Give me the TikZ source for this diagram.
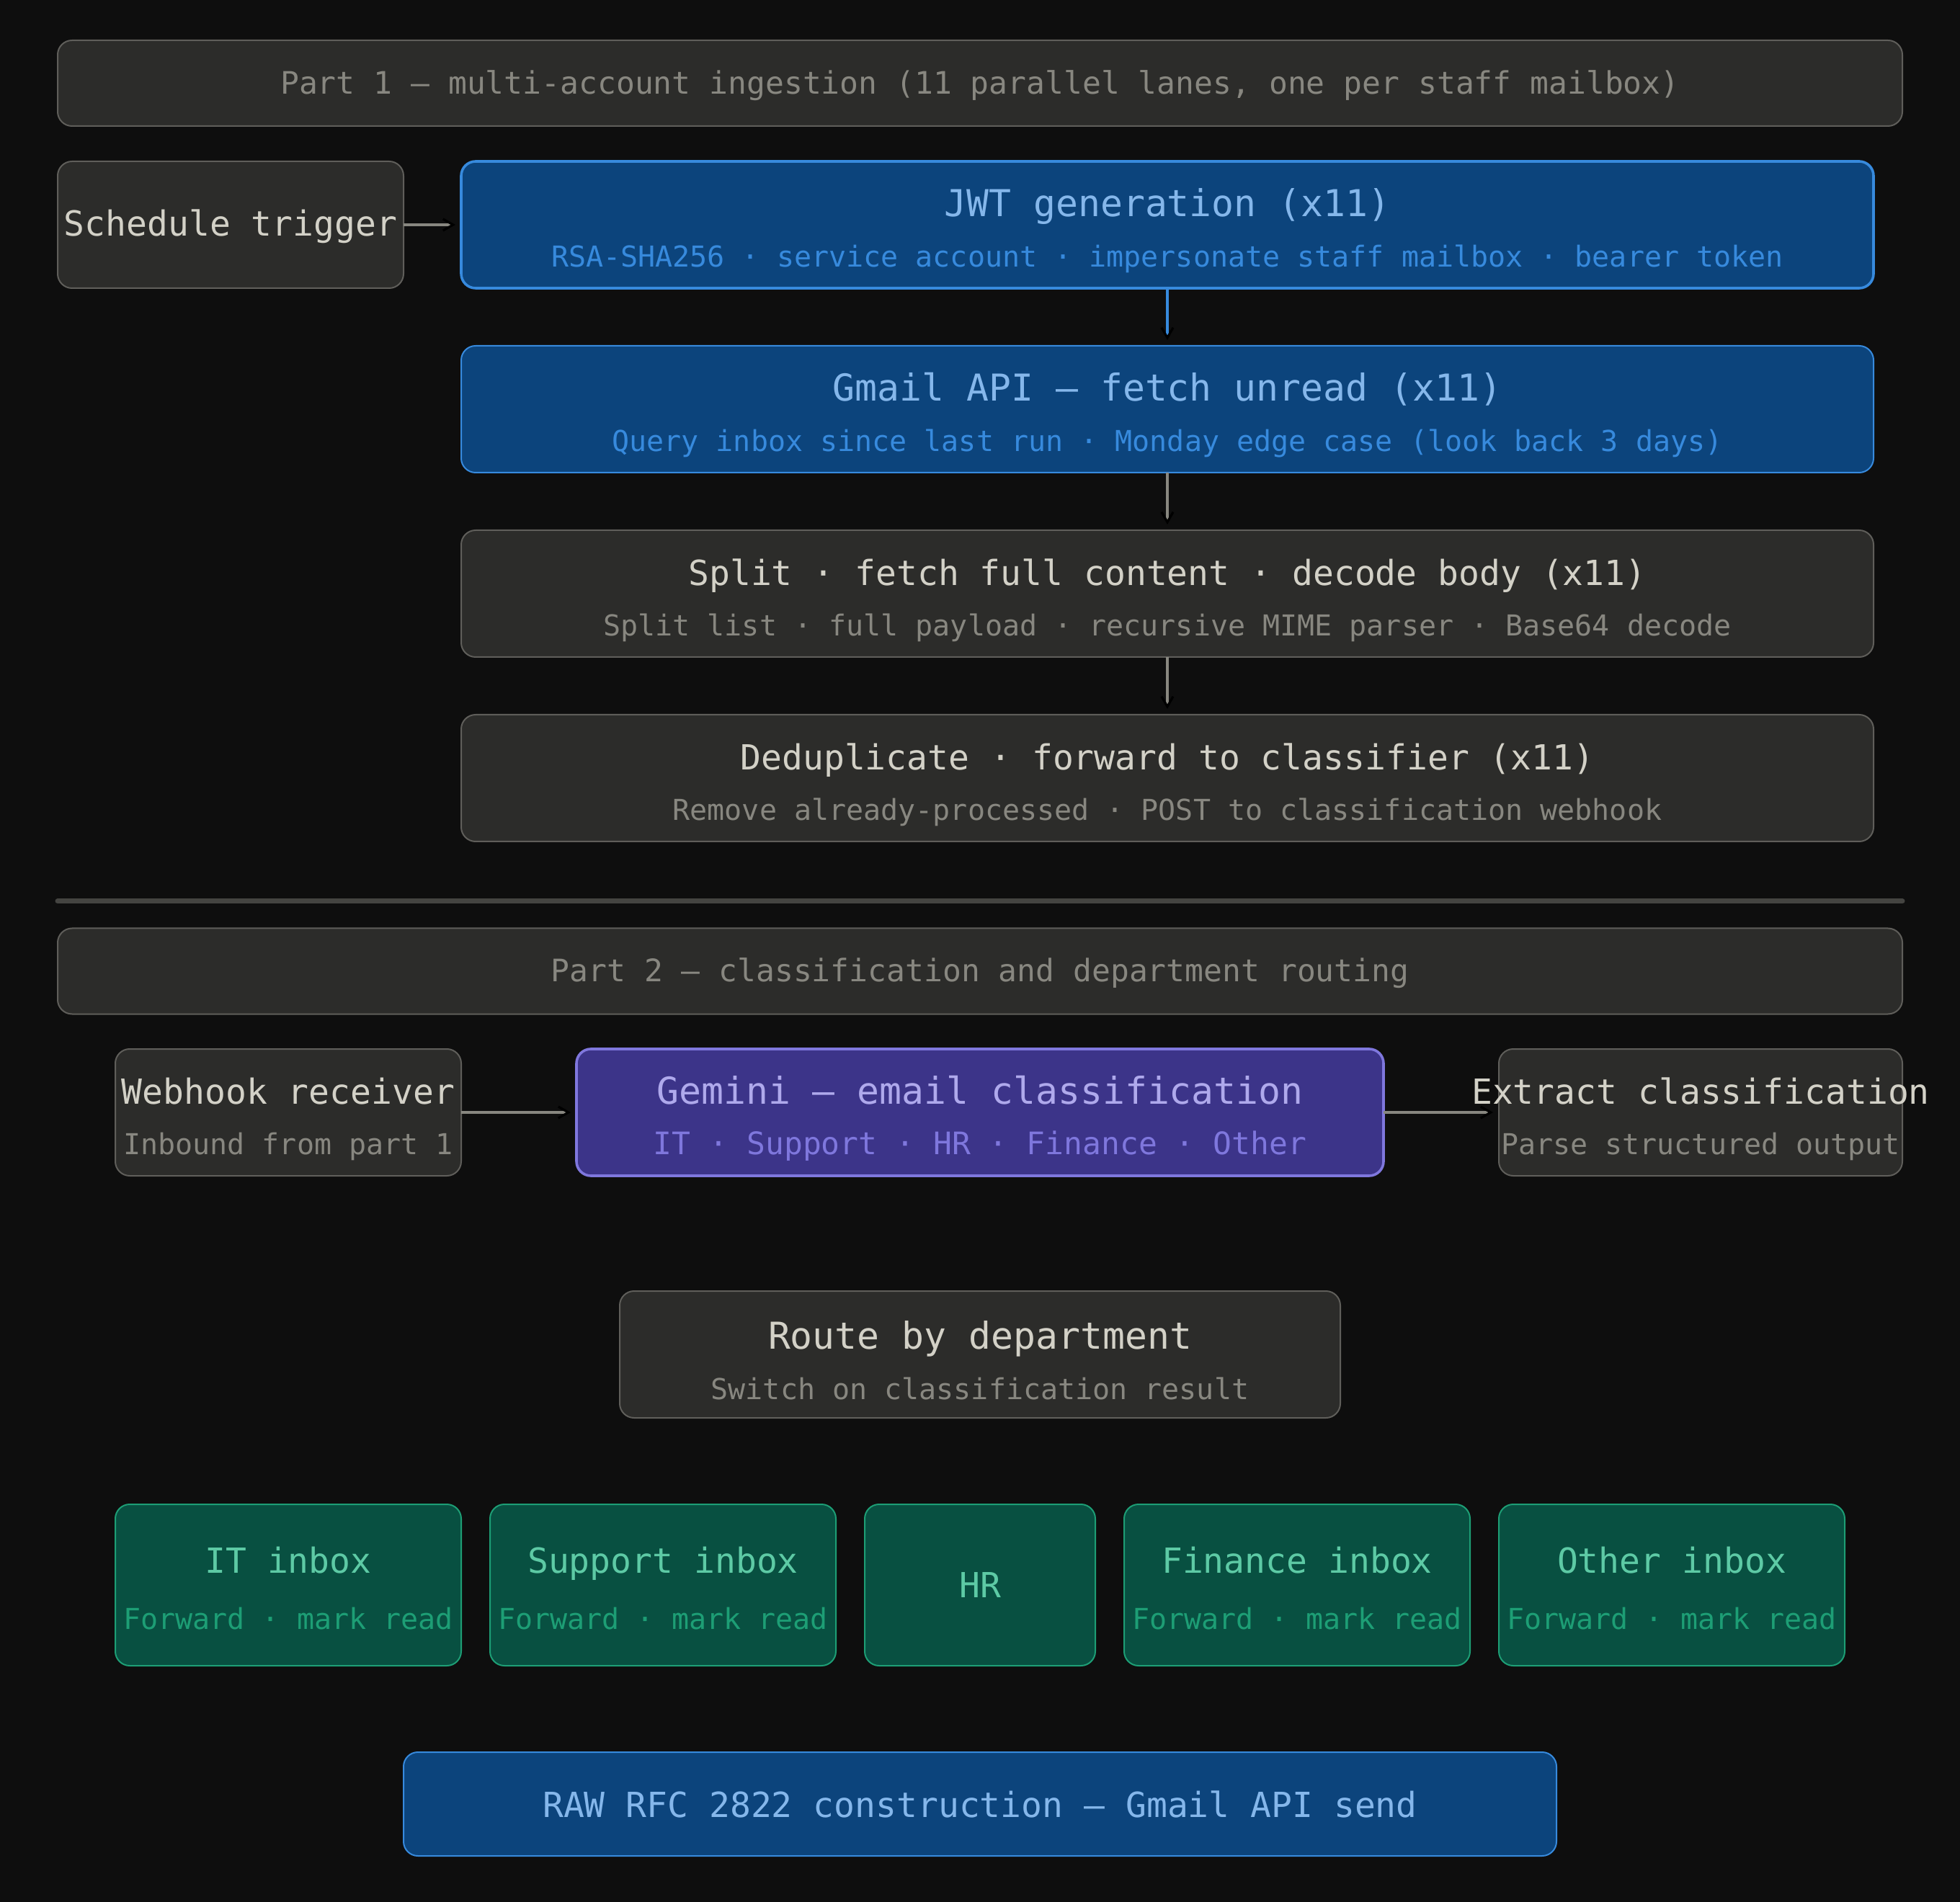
\documentclass[tikz,border=0pt]{standalone}
\usepackage{fontspec}
\setmainfont{DejaVu Sans Mono}
\usepackage{tikz}
\usetikzlibrary{arrows.meta,positioning}
\definecolor{pagebg}{HTML}{0E0E0E}
\definecolor{plainfill}{HTML}{2C2C2A}
\definecolor{plainline}{HTML}{5F5E5A}
\definecolor{plaintext}{HTML}{D3D1C7}
\definecolor{plainsub}{HTML}{888780}
\definecolor{apifill}{HTML}{0C447C}
\definecolor{apiline}{HTML}{378ADD}
\definecolor{apitext}{HTML}{85B7EB}
\definecolor{modelfill}{HTML}{3C3489}
\definecolor{modelline}{HTML}{7F77DD}
\definecolor{modeltext}{HTML}{AFA9EC}
\definecolor{inboxfill}{HTML}{085041}
\definecolor{inboxline}{HTML}{1D9E75}
\definecolor{inboxtext}{HTML}{5DCAA5}
\definecolor{rulecolor}{HTML}{444441}
\newcommand{\bigtitle}{\fontsize{12.85}{17.5}\selectfont}
\newcommand{\toprow}{\rule{0pt}{14pt}}
\newcommand{\inboxrow}{\rule{0pt}{11.4pt}}
\newcommand{\subtxt}[2]{{\color{#1}\fontsize{10}{17.5}\selectfont #2}}
\tikzset{
  basenode/.style={
    rounded corners=5pt,
    align=center,
    inner sep=0pt,
    outer sep=0pt,
    minimum height=44pt,
    font=\fontsize{12}{17.5}\selectfont
  },
  plainnode/.style={basenode, draw=plainline, fill=plainfill, line width=0.5pt, text=plaintext},
  apinode/.style={basenode, draw=apiline, fill=apifill, line width=0.5pt, text=apitext},
  modelnode/.style={basenode, draw=modelline, fill=modelfill, line width=0.9pt, text=modeltext},
  inboxnode/.style={basenode, draw=inboxline, fill=inboxfill, line width=0.5pt, text=inboxtext,
    minimum width=120pt, minimum height=56pt},
  headnode/.style={plainnode, minimum width=640pt, minimum height=29.75pt, text=plainsub,
    text height=10pt, text depth=2.5pt, font=\fontsize{10.75}{13}\selectfont},
  flowarrow/.style={-{Straight Barb[length=3.5pt,width=4pt,color=black]},line width=0.8pt,draw=plainsub,shorten >=2pt},
  apiarrow/.style={flowarrow, draw=apiline}
}
\begin{document}
\begin{tikzpicture}
  \path[use as bounding box, fill=pagebg] (0,0) rectangle (680pt,-660pt);
  % part 1
  \node[headnode] (part1) at (340pt,-28.875pt) {Part 1 — multi-account ingestion (11 parallel lanes, one per staff mailbox)};
  \node[apinode, line width=0.9pt, minimum width=490pt, font=\bigtitle] (jwt) at (405pt,-78pt)
    {\toprow JWT generation (x11)\\\subtxt{apiline}{RSA-SHA256 · service account · impersonate staff mailbox · bearer token}};
  \node[plainnode, minimum width=120pt, text height=10.9pt, text depth=2.9pt, left=20pt of jwt] (trigger) {Schedule trigger};
  \node[apinode, minimum width=490pt, font=\bigtitle, below=20pt of jwt] (fetch)
    {\toprow Gmail API — fetch unread (x11)\\\subtxt{apiline}{Query inbox since last run · Monday edge case (look back 3 days)}};
  \node[plainnode, minimum width=490pt, below=20pt of fetch] (split)
    {\toprow Split · fetch full content · decode body (x11)\\\subtxt{plainsub}{Split list · full payload · recursive MIME parser · Base64 decode}};
  \node[plainnode, minimum width=490pt, below=20pt of split] (dedup)
    {\toprow Deduplicate · forward to classifier (x11)\\\subtxt{plainsub}{Remove already-processed · POST to classification webhook}};
  \draw[flowarrow] (trigger) -- (jwt);
  \draw[apiarrow] (jwt) -- (fetch);
  \draw[flowarrow] (fetch) -- (split);
  \draw[flowarrow] (split) -- (dedup);
  % divider
  \draw[rulecolor, line width=1.75pt, line cap=round] (20pt,-312.75pt) -- (660pt,-312.75pt);
  % part 2
  \node[headnode] (part2) at (340pt,-337pt) {Part 2 — classification and department routing};
  \node[modelnode, minimum width=280pt, font=\bigtitle] (gemini) at (340pt,-386pt)
    {\toprow Gemini — email classification\\{\color{modelline}\fontsize{10.75}{17.5}\selectfont IT · Support · HR · Finance · Other}};
  \node[plainnode, minimum width=120pt, left=40pt of gemini] (webhook)
    {\toprow Webhook receiver\\\subtxt{plainsub}{Inbound from part 1}};
  \node[plainnode, minimum width=140pt, right=40pt of gemini] (extract)
    {\makebox[0pt]{\toprow Extract classification}\\\makebox[0pt]{\subtxt{plainsub}{Parse structured output}}};
  \node[plainnode, minimum width=250pt, font=\bigtitle, below=40pt of gemini] (route)
    {\toprow Route by department\\\subtxt{plainsub}{Switch on classification result}};
  \draw[flowarrow] (webhook) -- (gemini);
  \draw[flowarrow] (gemini) -- (extract);
  % department inboxes
  \node[inboxnode, minimum width=80pt, below=30pt of route] (hr) {HR};
  \node[inboxnode, left=10pt of hr] (support)
    {\inboxrow Support inbox\\[2pt]\subtxt{inboxline}{Forward · mark read}};
  \node[inboxnode, left=10pt of support] (itbox)
    {\inboxrow IT inbox\\[2pt]\subtxt{inboxline}{Forward · mark read}};
  \node[inboxnode, right=10pt of hr] (finance)
    {\inboxrow Finance inbox\\[2pt]\subtxt{inboxline}{Forward · mark read}};
  \node[inboxnode, right=10pt of finance] (other)
    {\inboxrow Other inbox\\[2pt]\subtxt{inboxline}{Forward · mark read}};
  \node[apinode, minimum width=400pt, minimum height=36pt, below=30pt of hr] (send)
    {RAW RFC 2822 construction — Gmail API send};
\end{tikzpicture}
\end{document}
